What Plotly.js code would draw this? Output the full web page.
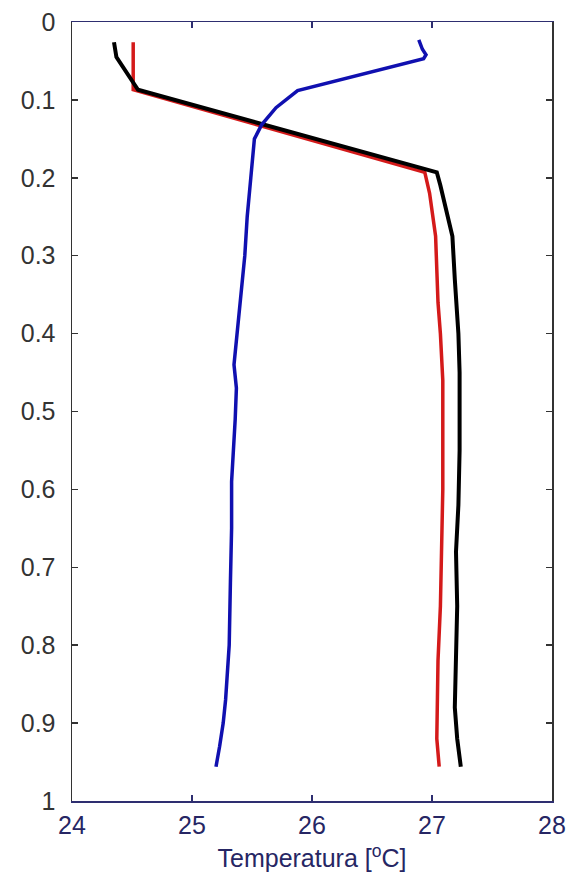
<!DOCTYPE html>
<html>
<head>
<meta charset="utf-8">
<script src="https://cdn.plot.ly/plotly-3.0.1.min.js"></script>
<style>html,body{margin:0;padding:0;background:#fff;}#chart{width:568px;height:882px;}</style>
</head>
<body>
<div id="chart"></div>
<script>
// Depth (y) and temperature (x) for each profile
const blackDepth = [0.026, 0.045, 0.087, 0.193, 0.21, 0.24, 0.275, 0.33, 0.40, 0.45, 0.55, 0.62, 0.68, 0.75, 0.82, 0.88, 0.92, 0.956];
const blackTemp  = [24.35, 24.37, 24.55, 27.04, 27.07, 27.12, 27.17, 27.19, 27.22, 27.23, 27.23, 27.22, 27.20, 27.21, 27.20, 27.19, 27.21, 27.24];

const redDepth = [0.026, 0.087, 0.193, 0.22, 0.275, 0.33, 0.36, 0.40, 0.46, 0.60, 0.70, 0.75, 0.82, 0.88, 0.92, 0.956];
const redTemp  = [24.51, 24.51, 26.94, 26.98, 27.03, 27.04, 27.05, 27.07, 27.09, 27.09, 27.08, 27.07, 27.05, 27.04, 27.04, 27.06];

const blueDepth = [0.023, 0.035, 0.042, 0.047, 0.088, 0.11, 0.132, 0.15, 0.20, 0.25, 0.30, 0.36, 0.40, 0.44, 0.47, 0.51, 0.59, 0.65, 0.72, 0.80, 0.87, 0.90, 0.93, 0.956];
const blueTemp  = [26.89, 26.92, 26.95, 26.93, 25.88, 25.70, 25.58, 25.52, 25.49, 25.46, 25.44, 25.40, 25.37, 25.35, 25.37, 25.36, 25.33, 25.33, 25.32, 25.31, 25.28, 25.26, 25.23, 25.20];

const xTicks = [24, 25, 26, 27, 28];
const yTicks = [0, 0.1, 0.2, 0.3, 0.4, 0.5, 0.6, 0.7, 0.8, 0.9, 1];
const yTickText = ['0', '0.1', '0.2', '0.3', '0.4', '0.5', '0.6', '0.7', '0.8', '0.9', '1'];
const xTitle = 'Temperatura [<sup>o</sup>C]';

const traces = [
  {x: redTemp, y: redDepth, mode: 'lines', line: {color: '#d41a1a', width: 3.5}, hoverinfo: 'none'},
  {x: blackTemp, y: blackDepth, mode: 'lines', line: {color: '#000000', width: 4}, hoverinfo: 'none'},
  {x: blueTemp, y: blueDepth, mode: 'lines', line: {color: '#1010b0', width: 3.5}, hoverinfo: 'none'}
];

const layout = {
  width: 568, height: 882,
  margin: {l: 72, r: 16, t: 22, b: 81},
  paper_bgcolor: '#ffffff', plot_bgcolor: '#ffffff',
  showlegend: false,
  font: {family: 'Liberation Sans, Arial, sans-serif', size: 25, color: '#333333'},
  xaxis: {
    range: [24, 28], tickvals: xTicks, ticktext: xTicks.map(String),
    showgrid: false, zeroline: false,
    showline: true, linecolor: '#2e2e70', linewidth: 1.5, mirror: 'ticks',
    ticks: 'inside', ticklen: 6, tickwidth: 1.5, tickcolor: '#2e2e70',
    tickfont: {color: '#262664', size: 25},
    ticklabelstandoff: 1,
    title: {text: xTitle, font: {color: '#262664', size: 25}, standoff: 12}
  },
  yaxis: {
    range: [1, 0], tickvals: yTicks, ticktext: yTickText,
    showgrid: false, zeroline: false,
    showline: true, linecolor: '#333333', linewidth: 1.5, mirror: 'ticks',
    ticks: 'inside', ticklen: 6, tickwidth: 1.5, tickcolor: '#333333',
    tickfont: {color: '#333333', size: 25},
    ticklabelstandoff: 10
  }
};

Plotly.newPlot('chart', traces, layout, {displayModeBar: false, staticPlot: true});
</script>
</body>
</html>
